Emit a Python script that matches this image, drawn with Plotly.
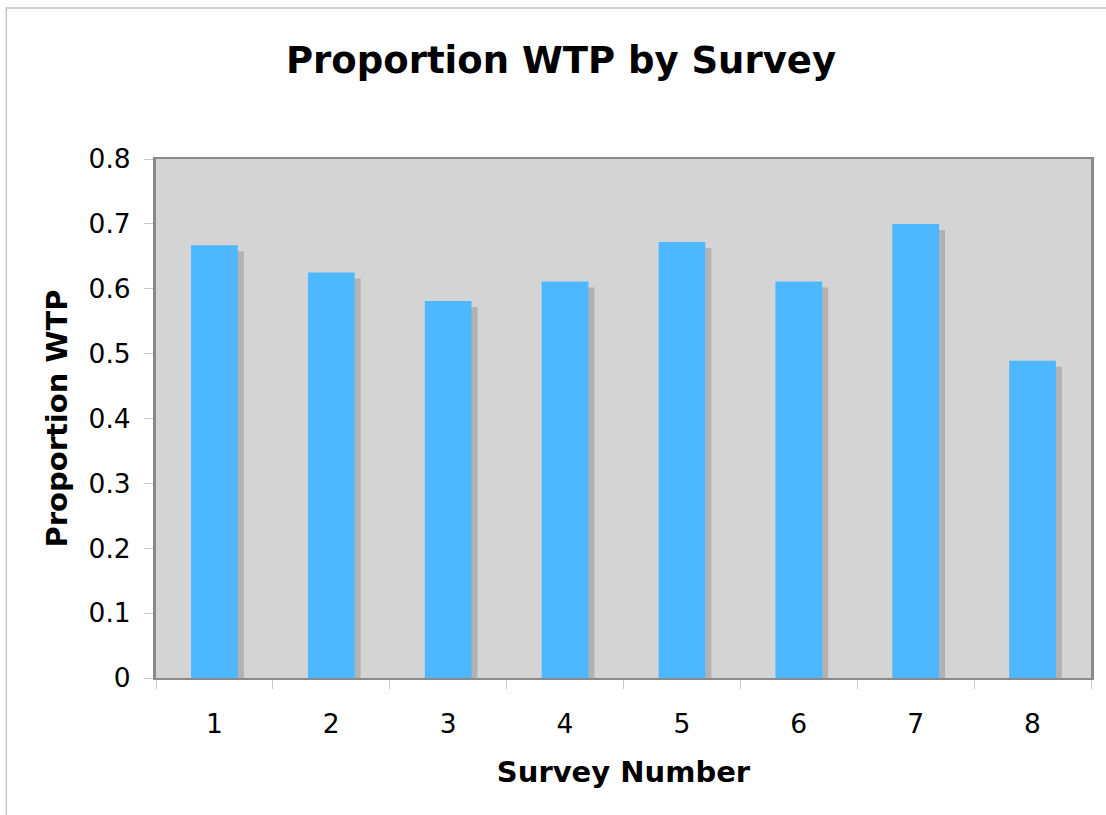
import plotly.graph_objects as go

surveys = ["1", "2", "3", "4", "5", "6", "7", "8"]
proportion_wtp = [0.667, 0.625, 0.581, 0.611, 0.672, 0.611, 0.700, 0.489]
y_ticks = [0, 0.1, 0.2, 0.3, 0.4, 0.5, 0.6, 0.7, 0.8]
y_tick_labels = ["0", "0.1", "0.2", "0.3", "0.4", "0.5", "0.6", "0.7", "0.8"]

W, H = 1106, 815
L, R, T, B = 156, 13, 159, 137
plot_w = W - L - R
plot_h = H - T - B

bar_w = 0.4
shadow_dx = 6 / (plot_w / len(surveys))
shadow_dy = 6 / (plot_h / 0.8)

fig = go.Figure()
fig.add_trace(go.Bar(
    x=surveys, y=[v - shadow_dy for v in proportion_wtp],
    width=bar_w, offset=-bar_w / 2 + shadow_dx,
    marker=dict(color="#b2b2b2", line=dict(width=0)),
    hoverinfo="skip", showlegend=False,
))
fig.add_trace(go.Bar(
    x=surveys, y=proportion_wtp,
    width=bar_w, offset=-bar_w / 2,
    marker=dict(color="#4db8ff", line=dict(width=0)),
    showlegend=False, name="Proportion WTP",
))

font_family = "DejaVu Sans, Verdana, sans-serif"
fig.update_layout(
    width=W, height=H,
    margin=dict(l=L, r=R, t=T, b=B, pad=0),
    paper_bgcolor="white",
    plot_bgcolor="#d4d4d4",
    barmode="overlay",
    font=dict(family=font_family, color="black"),
    title=dict(
        text="<b>Proportion WTP by Survey</b>",
        font=dict(size=37, family=font_family, color="black"),
        x=561 / W, xanchor="center", xref="container",
        y=1 - 60 / H, yanchor="middle", yref="container",
    ),
    xaxis=dict(
        type="category",
        range=[-0.5, len(surveys) - 0.5],
        tickson="boundaries",
        ticks="outside", ticklen=9, tickwidth=1, tickcolor="#c8c8c8",
        tickfont=dict(size=26.5),
        ticklabelstandoff=21,
        showline=True, linecolor="#8a8a8a", linewidth=2, mirror=True,
        showgrid=False, zeroline=False,
        title=dict(text="<b>Survey Number</b>", font=dict(size=29), standoff=24),
        fixedrange=True,
    ),
    yaxis=dict(
        range=[0, 0.8],
        tickvals=y_ticks, ticktext=y_tick_labels,
        ticks="outside", ticklen=9, tickwidth=1, tickcolor="#c8c8c8",
        tickfont=dict(size=26.5),
        ticklabelstandoff=8,
        showline=True, linecolor="#8a8a8a", linewidth=3, mirror=True,
        showgrid=False, zeroline=False,
        title=dict(text="<b>Proportion WTP</b>", font=dict(size=29), standoff=13),
        fixedrange=True,
    ),
    shapes=[dict(
        type="rect", xref="paper", yref="paper",
        x0=(6 - L) / plot_w, x1=(W + 20 - L) / plot_w,
        y0=(H - B - (H + 20)) / plot_h, y1=(H - B - 8) / plot_h,
        line=dict(color="#c4c4c4", width=1.5), fillcolor="rgba(0,0,0,0)",
        layer="below",
    )],
)

fig.write_html("out.html")
